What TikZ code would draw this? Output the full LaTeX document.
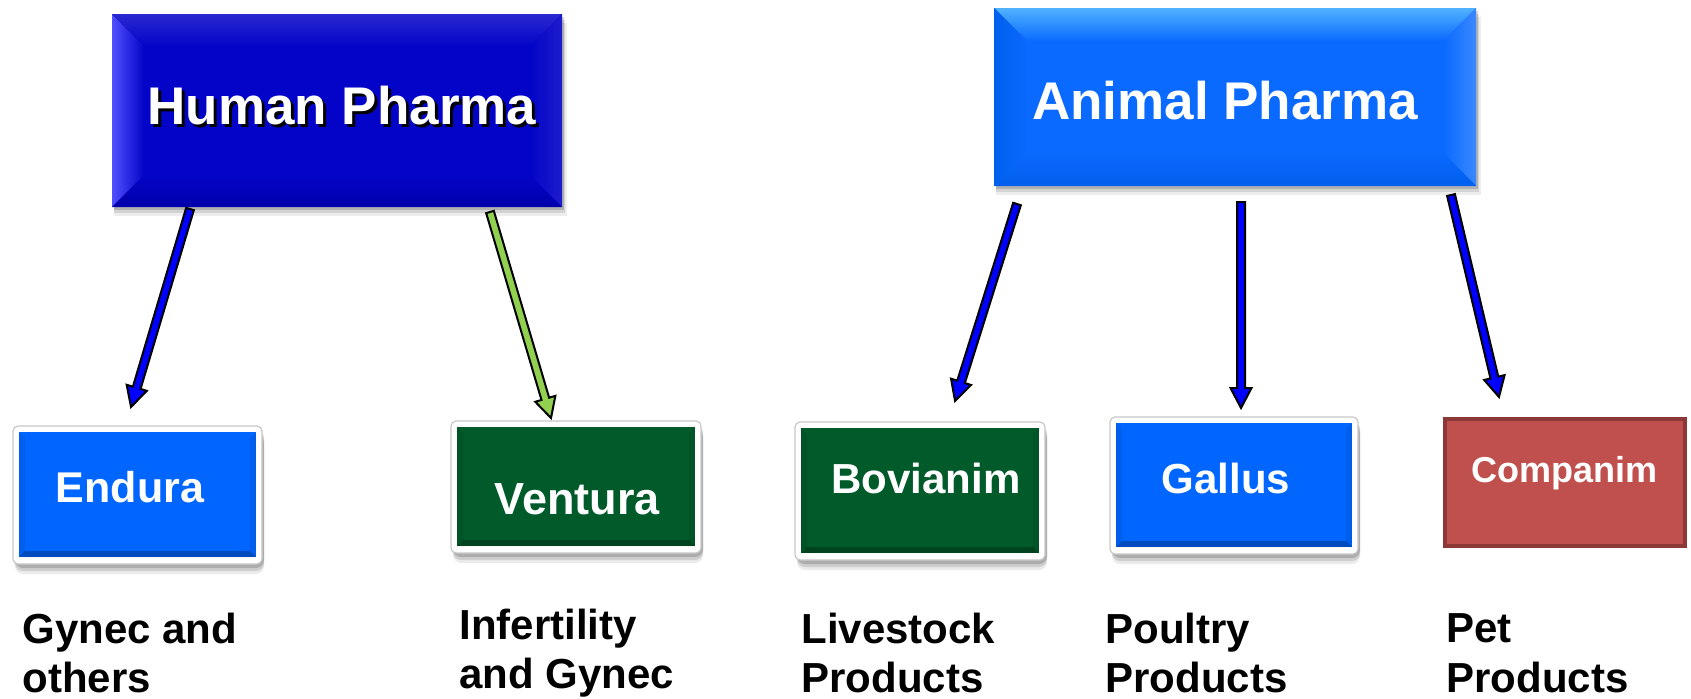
\documentclass[tikz,border=0pt]{standalone}
\usepackage{fontspec}
\setmainfont{Liberation Sans}
\usetikzlibrary{calc}
\definecolor{hpblue}{RGB}{4,4,200}
\definecolor{hplight}{RGB}{80,80,255}
\definecolor{hpdark}{RGB}{0,0,170}
\definecolor{apblue}{RGB}{10,106,255}
\definecolor{aplight}{RGB}{80,178,255}
\definecolor{apdark}{RGB}{0,95,235}
\definecolor{sblue}{RGB}{0,102,255}
\definecolor{sgreen}{RGB}{0,90,42}
\definecolor{cred}{RGB}{192,80,77}
\definecolor{cdark}{RGB}{140,56,54}
\definecolor{agreen}{RGB}{146,208,80}
\definecolor{ablue}{RGB}{0,0,255}
\tikzset{
  boxtext/.style={text=white, font=\bfseries\fontsize{#1}{#1}\selectfont, inner sep=0pt, anchor=base},
  lbl/.style={text=black, font=\bfseries\fontsize{21pt}{25pt}\selectfont, inner sep=0pt, anchor=base west},
  lastlbl/.style={lbl, text depth=0pt},
  frame/.style={fill=white, draw=black!22, line width=0.6pt, rounded corners=2.5pt},
  blockarrowline/.style={draw=black, line width=1pt, line join=miter, fill=#1},
}
% block arrow from #1 to #2 filled with #3
\newcommand\blockarrow[3]{%
  \path[blockarrowline=#3] let \p1=(#1), \p2=(#2),
    \n1={atan2(\y2-\y1,\x2-\x1)}, \n2={veclen(\x2-\x1,\y2-\y1)} in
    [shift={(\p1)}, rotate=\n1]
    (0pt,-2pt) -- ({(\n2-10)*1pt},-2pt) -- ({(\n2-10)*1pt},-5.25pt) -- ({\n2*1pt},0pt)
    -- ({(\n2-10)*1pt},5.25pt) -- ({(\n2-10)*1pt},2pt) -- (0pt,2pt) -- cycle;}
% small framed box: x1 y1 x2 y2 colour
\newcommand\smallbox[5]{%
  \foreach \k/\o in {10/0.08,7/0.12,4/0.16}{
    \fill[black, opacity=\o, rounded corners=4pt] ({#1+2},{#2+\k}) rectangle ({#3+2},{#4+\k});}
  \path[frame] (#1,#2) rectangle (#3,#4);
  \fill[#5] ({#1+6},{#2+6}) rectangle ({#3-6},{#4-7});
  \fill[black, opacity=0.25] ({#1+6},{#4-7}) -- ({#3-6},{#4-7}) -- ({#3-12},{#4-13}) -- ({#1+12},{#4-13}) -- cycle;
  \fill[black, opacity=0.07] ({#1+6},{#2+6}) -- ({#1+12},{#2+12}) -- ({#1+12},{#4-13}) -- ({#1+6},{#4-7}) -- cycle;
  \fill[black, opacity=0.07] ({#3-6},{#2+6}) -- ({#3-12},{#2+12}) -- ({#3-12},{#4-13}) -- ({#3-6},{#4-7}) -- cycle;}
\begin{document}
\begin{tikzpicture}[x=0.5pt, y=-0.5pt]
\useasboundingbox (0,0) rectangle (1691,698);

% ---------- Human Pharma ----------
\foreach \k/\o in {9/0.07,6/0.11,3/0.16}{
  \fill[black, opacity=\o] (114,{14+\k}) rectangle ({562+\k/2},{207+\k});}
\fill[hpblue] (112,14) rectangle (562,207);
\shade[left color=hplight, right color=hpblue] (112,14) -- (144,46) -- (144,175) -- (112,207) -- cycle;
\shade[top color=hpblue!85!white, bottom color=hpblue] (112,14) -- (562,14) -- (530,46) -- (144,46) -- cycle;
\shade[left color=hpblue, right color=hpblue!90!white] (562,14) -- (562,207) -- (530,175) -- (530,46) -- cycle;
\shade[top color=hpblue, bottom color=hpdark] (112,207) -- (562,207) -- (530,175) -- (144,175) -- cycle;
\node[boxtext=26.5pt, text=black] (hpsh) at (345,127) {Human Pharma};
\node[boxtext=26.5pt] (hp) at (342,124) {Human Pharma};

% ---------- Animal Pharma ----------
\foreach \k/\o in {9/0.07,6/0.11,3/0.16}{
  \fill[black, opacity=\o] (996,{8+\k}) rectangle ({1476+\k/2},{186+\k});}
\fill[apblue] (994,8) rectangle (1476,186);
\shade[top color=aplight, bottom color=apblue] (994,8) -- (1476,8) -- (1443,41) -- (1027,41) -- cycle;
\shade[left color=apdark, right color=apblue] (994,8) -- (1027,41) -- (1027,153) -- (994,186) -- cycle;
\shade[left color=apblue, right color=apblue!80!white] (1476,8) -- (1476,186) -- (1443,153) -- (1443,41) -- cycle;
\shade[top color=apblue, bottom color=apdark] (994,186) -- (1476,186) -- (1443,153) -- (1027,153) -- cycle;
\node[boxtext=26.5pt] (ap) at (1225,119) {Animal Pharma};

% ---------- small boxes ----------
\smallbox{13}{426}{262}{564}{sblue}
\node[boxtext=21.5pt] (en) at (130,502) {Endura};
\smallbox{451}{421}{701}{553}{sgreen}
\node[boxtext=22.5pt] (ve) at (577,514) {Ventura};
\smallbox{795}{422}{1045}{560}{sgreen}
\node[boxtext=21pt] (bo) at (926,493) {Bovianim};
\smallbox{1110}{417}{1358}{554}{sblue}
\node[boxtext=21pt] (ga) at (1226,493) {Gallus};
\draw[fill=cred, draw=cdark, line width=1.6pt] (1445,419) rectangle (1685,546);
\node[boxtext=18pt] (co) at (1564,482) {Companim};

% ---------- arrows ----------
\coordinate (a1s) at (190,209);  \coordinate (a1e) at (131,407);
\coordinate (a2s) at (490,212);  \coordinate (a2e) at (551,418);
\coordinate (a3s) at (1017,204); \coordinate (a3e) at (955,401);
\coordinate (a4s) at (1241,202); \coordinate (a4e) at (1241,408);
\coordinate (a5s) at (1451,195); \coordinate (a5e) at (1499,397);
\blockarrow{a1s}{a1e}{ablue}
\blockarrow{a2s}{a2e}{agreen}
\blockarrow{a3s}{a3e}{ablue}
\blockarrow{a4s}{a4e}{ablue}
\blockarrow{a5s}{a5e}{ablue}

% ---------- labels ----------
\node[lbl] (l1a) at (22,643) {Gynec and};
\node[lastlbl] (l1b) at (22,692) {others};
\node[lbl] (l2a) at (459,639) {Infertility};
\node[lbl] (l2b) at (459,688) {and Gynec};
\node[lbl] (l3a) at (801,643) {Livestock};
\node[lastlbl] (l3b) at (801,692) {Products};
\node[lbl] (l4a) at (1105,643) {Poultry};
\node[lastlbl] (l4b) at (1105,692) {Products};
\node[lbl] (l5a) at (1446,642) {Pet};
\node[lastlbl] (l5b) at (1446,692) {Products};
\end{tikzpicture}
\end{document}
